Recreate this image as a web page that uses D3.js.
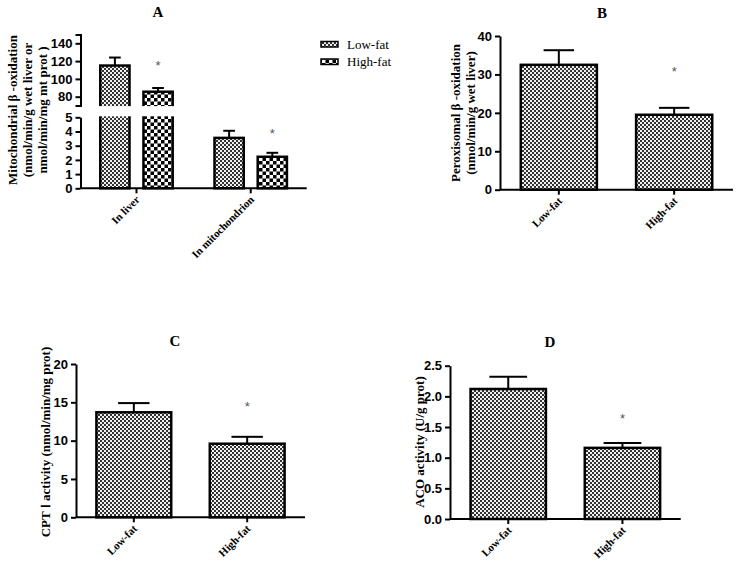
<!DOCTYPE html>
<html><head><meta charset="utf-8">
<script src="https://cdn.jsdelivr.net/npm/d3@7"></script>
<style>
body{margin:0;background:#fff;}
svg{display:block;}
.tick text{font-family:"Liberation Sans Narrow","Liberation Sans",Arial,sans-serif;font-weight:bold;font-size:13px;fill:#000;}
.xl{font-family:"Liberation Serif","Times New Roman",serif;font-weight:bold;font-size:11px;}
.yl{font-family:"Liberation Serif","Times New Roman",serif;font-weight:bold;font-size:13px;}
.ttl{font-family:"Liberation Serif","Times New Roman",serif;font-weight:bold;font-size:15px;}
.ast{font-family:"Liberation Sans",Arial,sans-serif;font-size:13px;fill:#555;}
.leg{font-family:"Liberation Serif","Times New Roman",serif;font-size:13px;}
</style></head>
<body>
<script>
// ---- data ----
const groups = ["Low-fat", "High-fat"];
const categoriesA = ["In liver", "In mitochondrion"];
const aLowMean = [115, 3.55];
const aLowErr = [9, 0.5];
const aHighMean = [85.6, 2.22];
const aHighErr = [4.2, 0.28];
const aUpperTicks = [80, 100, 120, 140];
const aLowerTicks = [0, 1, 2, 3, 4, 5];
const bMean = [32.5, 19.5];
const bErr = [3.8, 1.8];
const bTicks = [0, 10, 20, 30, 40];
const cMean = [13.7, 9.6];
const cErr = [1.2, 0.9];
const cTicks = [0, 5, 10, 15, 20];
const dMean = [2.12, 1.16];
const dErr = [0.2, 0.08];
const dTicks = [0, 0.5, 1.0, 1.5, 2.0, 2.5];

const svg = d3.select("body").append("svg").attr("width", 736).attr("height", 568);
const defs = svg.append("defs");
// fine checker (Low-fat)
const p1 = defs.append("pattern").attr("id","fine").attr("patternUnits","userSpaceOnUse").attr("width",4).attr("height",4);
p1.append("rect").attr("width",4).attr("height",4).attr("fill","#f0f0f0");
p1.append("rect").attr("width",2).attr("height",2).attr("fill","#333");
p1.append("rect").attr("x",2).attr("y",2).attr("width",2).attr("height",2).attr("fill","#333");
// coarse checker (High-fat in A)
const p2 = defs.append("pattern").attr("id","coarse").attr("patternUnits","userSpaceOnUse").attr("width",7).attr("height",7);
p2.append("rect").attr("width",7).attr("height",7).attr("fill","#fff");
p2.append("rect").attr("width",3.5).attr("height",3.5).attr("fill","#000");
p2.append("rect").attr("x",3.5).attr("y",3.5).attr("width",3.5).attr("height",3.5).attr("fill","#000");

function styleAxis(g){
  g.selectAll(".domain").attr("stroke","#000").attr("stroke-width",2);
  g.selectAll(".tick line").attr("stroke","#000").attr("stroke-width",2);
}
function drawBar(g, x, w, yTop, yBase, fill){
  g.append("rect").attr("x",x).attr("y",yTop).attr("width",w).attr("height",yBase-yTop)
   .attr("fill",fill).attr("stroke","#000").attr("stroke-width",2.5);
}
function drawErr(g, cx, yTop, yErr, cap){
  g.append("line").attr("x1",cx).attr("x2",cx).attr("y1",yTop).attr("y2",yErr).attr("stroke","#000").attr("stroke-width",2);
  g.append("line").attr("x1",cx-cap/2).attr("x2",cx+cap/2).attr("y1",yErr).attr("y2",yErr).attr("stroke","#000").attr("stroke-width",2);
}
function xLabels(g, xs, labels, base){
  labels.forEach((t,i)=>{
    g.append("text").attr("class","xl").attr("text-anchor","end")
     .attr("transform",`translate(${xs[i]+4},${base+12}) rotate(-45)`).text(t);
  });
}

// ---------- generic panel B/C/D ----------
function panel(opt){
  const g = svg.append("g");
  const y = d3.scaleLinear().domain(opt.domain).range([opt.base, opt.top]);
  const x = d3.scaleBand().domain(groups).range([opt.x0, opt.x1]).paddingInner(0.34).paddingOuter(0.18);
  const bw = x.bandwidth();
  opt.mean.forEach((m,i)=>{
    const bx = x(groups[i]);
    drawErr(g, bx+bw/2, y(m), y(m+opt.err[i]), bw*opt.cap);
    drawBar(g, bx, bw, y(m), opt.base, "url(#fine)");
  });
  const ya = g.append("g").attr("transform",`translate(${opt.x0},0)`)
    .call(d3.axisLeft(y).tickValues(opt.ticks).tickSize(5).tickSizeOuter(0).tickFormat(opt.fmt));
  styleAxis(ya);
  const xa = g.append("g").attr("transform",`translate(0,${opt.base})`)
    .call(d3.axisBottom(x).tickSize(5).tickSizeOuter(0).tickFormat(""));
  styleAxis(xa);
  xa.select(".domain").attr("d",`M${opt.x0},0H${opt.x1}`);
  xLabels(g, groups.map(d=>x(d)+bw/2), groups, opt.base);
  // asterisk
  g.append("text").attr("class","ast").attr("text-anchor","middle")
   .attr("x", x(groups[1])+bw/2).attr("y", opt.astY).text("*");
  g.append("text").attr("class","ttl").attr("text-anchor","middle").attr("x",opt.tx).attr("y",opt.ty).text(opt.title);
  const yl = g.append("text").attr("class","yl").attr("text-anchor","middle")
   .attr("transform",`translate(${opt.lx},${opt.ly}) rotate(-90)`);
  opt.ylab.forEach((t,i)=> yl.append("tspan").attr("x",0).attr("dy", i===0?0:"1.15em").text(t));
}

panel({domain:[0,40], base:189.7, top:36, x0:500, x1:733, mean:bMean, err:bErr, ticks:bTicks,
  fmt:d3.format("d"), cap:0.4, astY:76, title:"B", tx:602, ty:18, lx:460, ly:113,
  ylab:["Peroxisomal β -oxidation","(nmol/min/g wet liver)"]});
panel({domain:[0,20], base:517.3, top:364, x0:76, x1:305, mean:cMean, err:cErr, ticks:cTicks,
  fmt:d3.format("d"), cap:0.42, astY:411, title:"C", tx:175, ty:346, lx:50, ly:442,
  ylab:["CPT Ⅰ activity (nmol/min/mg prot)"]});
panel({domain:[0,2.5], base:519, top:365.7, x0:450, x1:680.7, mean:dMean, err:dErr, ticks:dTicks,
  fmt:d3.format(".1f"), cap:0.5, astY:423, title:"D", tx:550, ty:347, lx:424, ly:442,
  ylab:["ACO activity (U/g prot)"]});

// ---------- panel A (broken axis) ----------
{
  const g = svg.append("g");
  const x0 = 80.5, x1 = 306.7, base = 188.3;
  const yLo = d3.scaleLinear().domain([0,5]).range([base, 117.3]);
  const yHi = d3.scaleLinear().domain([70,150]).range([105.6, 34.4]);
  const gapTop = 105.6, gapBot = 116.8;
  const yv = v => v > 5 ? yHi(v) : yLo(v);
  const xo = d3.scaleBand().domain(categoriesA).range([x0, x1]).paddingInner(0.366).paddingOuter(0.173);
  const xi = d3.scaleBand().domain(groups).range([0, xo.bandwidth()]).paddingInner(0.323).paddingOuter(0);
  const bw = xi.bandwidth();
  const series = [
    {mean:aLowMean, err:aLowErr, fill:"url(#fine)", g:groups[0]},
    {mean:aHighMean, err:aHighErr, fill:"url(#coarse)", g:groups[1]}
  ];
  categoriesA.forEach((c,ci)=>{
    series.forEach(s=>{
      const bx = xo(c) + xi(s.g);
      const m = s.mean[ci];
      drawErr(g, bx+bw/2, yv(m), yv(m+s.err[ci]), bw*0.4);
      drawBar(g, bx, bw, yv(m), base, s.fill);
      if (m > 5) {
        g.append("rect").attr("x",bx-3).attr("y",gapTop+0.5).attr("width",bw+6).attr("height",gapBot-gapTop-1).attr("fill","#fff");
      }
    });
    const sx = xo(c) + xi(groups[1]) + bw/2;
    g.append("text").attr("class","ast").attr("text-anchor","middle")
     .attr("x", sx).attr("y", ci===0 ? 70 : 138).text("*");
  });
  const ya1 = g.append("g").attr("transform",`translate(${x0},0)`)
    .call(d3.axisLeft(yHi).tickValues(aUpperTicks).tickSize(5).tickSizeOuter(5));
  styleAxis(ya1);
  const ya2 = g.append("g").attr("transform",`translate(${x0},0)`)
    .call(d3.axisLeft(yLo).tickValues(aLowerTicks).tickSize(5).tickSizeOuter(0).tickFormat(d3.format("d")));
  styleAxis(ya2);
  const xa = g.append("g").attr("transform",`translate(0,${base})`)
    .call(d3.axisBottom(xo).tickSize(5).tickSizeOuter(0).tickFormat(""));
  styleAxis(xa);
  xa.select(".domain").attr("d",`M${x0},0H${x1}`);
  xLabels(g, categoriesA.map(c=>xo(c)+xo.bandwidth()/2), categoriesA, base);
  g.append("text").attr("class","ttl").attr("text-anchor","middle").attr("x",158).attr("y",17).text("A");
  const yl = g.append("text").attr("class","yl").attr("text-anchor","middle")
    .attr("transform",`translate(17,110) rotate(-90)`);
  ["Mitochondrial β -oxidation","(nmol/min/g wet liver or","nmol/min/mg mt prot )"]
    .forEach((t,i)=> yl.append("tspan").attr("x",0).attr("dy", i===0?0:"1.15em").text(t));
  // legend
  const lg = g.append("g");
  groups.forEach((t,i)=>{
    lg.append("rect").attr("x",321).attr("y",41.5+i*17.5).attr("width",17).attr("height",5.5)
      .attr("fill", i===0?"url(#fine)":"url(#coarse)").attr("stroke","#000").attr("stroke-width",1.5);
    lg.append("text").attr("class","leg").attr("x",347).attr("y",48.5+i*17.5).text(t);
  });
}
</script>
</body></html>
